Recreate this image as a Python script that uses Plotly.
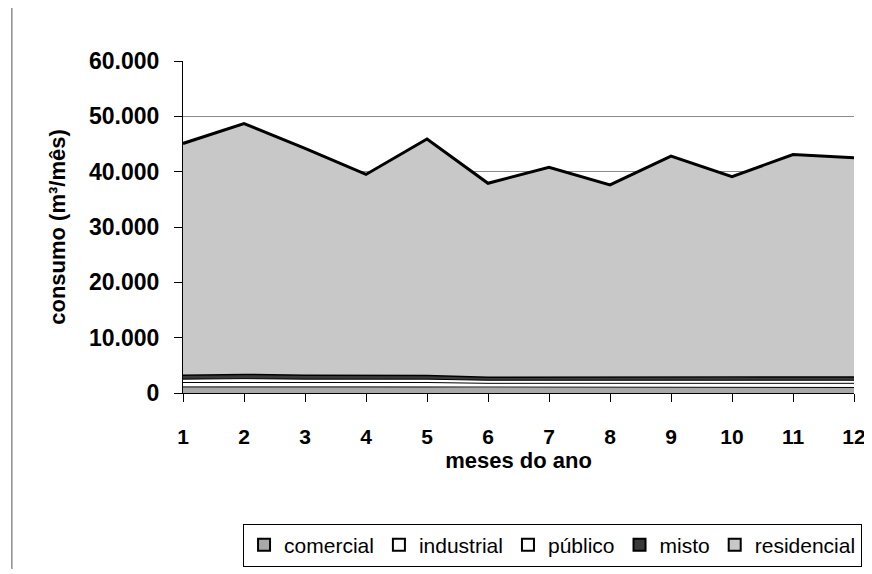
import plotly.graph_objects as go

meses = [1, 2, 3, 4, 5, 6, 7, 8, 9, 10, 11, 12]
comercial = [1100, 1150, 1100, 1100, 1100, 1000, 1000, 1000, 1000, 1000, 1000, 1000]
industrial = [800, 800, 800, 800, 800, 750, 750, 750, 750, 750, 750, 750]
publico = [600, 650, 600, 600, 600, 550, 550, 550, 550, 550, 550, 550]
misto = [700, 750, 700, 700, 650, 550, 550, 550, 550, 550, 600, 600]
residencial = [41900, 45350, 41000, 36300, 42750, 35050, 37950, 34750, 39950, 36250, 40200, 39600]
y_ticks = [0, 10000, 20000, 30000, 40000, 50000, 60000]

FONT = "Liberation Sans, Arial, sans-serif"

series = [
    ("comercial", comercial, "#a9a9a9", 1),
    ("industrial", industrial, "white", 1),
    ("público", publico, "white", 1),
    ("misto", misto, "#3a3a3a", 1.5),
    ("residencial", residencial, "#c8c8c8", 3),
]

fig = go.Figure()
# filled stacked areas
for name, vals, fc, lw in series:
    fig.add_trace(go.Scatter(
        x=meses, y=vals, name=name, stackgroup="areas", mode="none",
        fillcolor=fc, showlegend=False,
    ))
# black border lines on top of each stacked area
for name, vals, fc, lw in series:
    fig.add_trace(go.Scatter(
        x=meses, y=vals, name=name, stackgroup="borders", mode="lines", fill="none",
        line=dict(color="black", width=lw), showlegend=False, hoverinfo="skip",
    ))
# legend entries: square boxes like the reference
for name, vals, fc, lw in series:
    fig.add_trace(go.Scatter(
        x=[None], y=[None], name=name, mode="markers",
        marker=dict(symbol="square", size=13, color=fc, line=dict(color="black", width=1.5)),
    ))

fig.update_layout(
    width=864, height=568,
    paper_bgcolor="white", plot_bgcolor="white",
    margin=dict(l=175, r=10, t=53, b=180),
    separators=",.",
    font=dict(family=FONT, size=22, color="black"),
    showlegend=True,
    legend=dict(
        orientation="h", x=1.012, xanchor="right", y=-0.458, yanchor="middle",
        bordercolor="black", borderwidth=1, font=dict(size=21),
        itemwidth=30, traceorder="normal", bgcolor="white", itemsizing="constant",
    ),
)
fig.update_xaxes(
    range=[1, 12], tickvals=meses, showgrid=False, zeroline=False, automargin=False,
    showline=True, linecolor="black", linewidth=1,
    ticks="outside", ticklen=8, tickcolor="black",
    tickfont=dict(size=21, weight=700), ticklabelstandoff=17,
    title=dict(text="meses do ano", font=dict(size=22, weight=700), standoff=1),
)
fig.update_yaxes(
    range=[0, 60000], tickvals=y_ticks, tickformat=",d", automargin=False,
    showgrid=True, gridcolor="#8a8a8a", gridwidth=1, zeroline=False,
    showline=True, linecolor="black", linewidth=1,
    ticks="outside", ticklen=8, tickcolor="black",
    tickfont=dict(size=23, weight=700), ticklabelstandoff=10,
    title=dict(text="consumo (m³/mês)", font=dict(size=22, weight=700), standoff=17),
)
fig.add_shape(type="line", xref="paper", yref="paper", x0=-0.255, x1=-0.255, y0=-0.53, y1=1.18,
              line=dict(color="#555", width=1))

fig.write_html("out.html")
